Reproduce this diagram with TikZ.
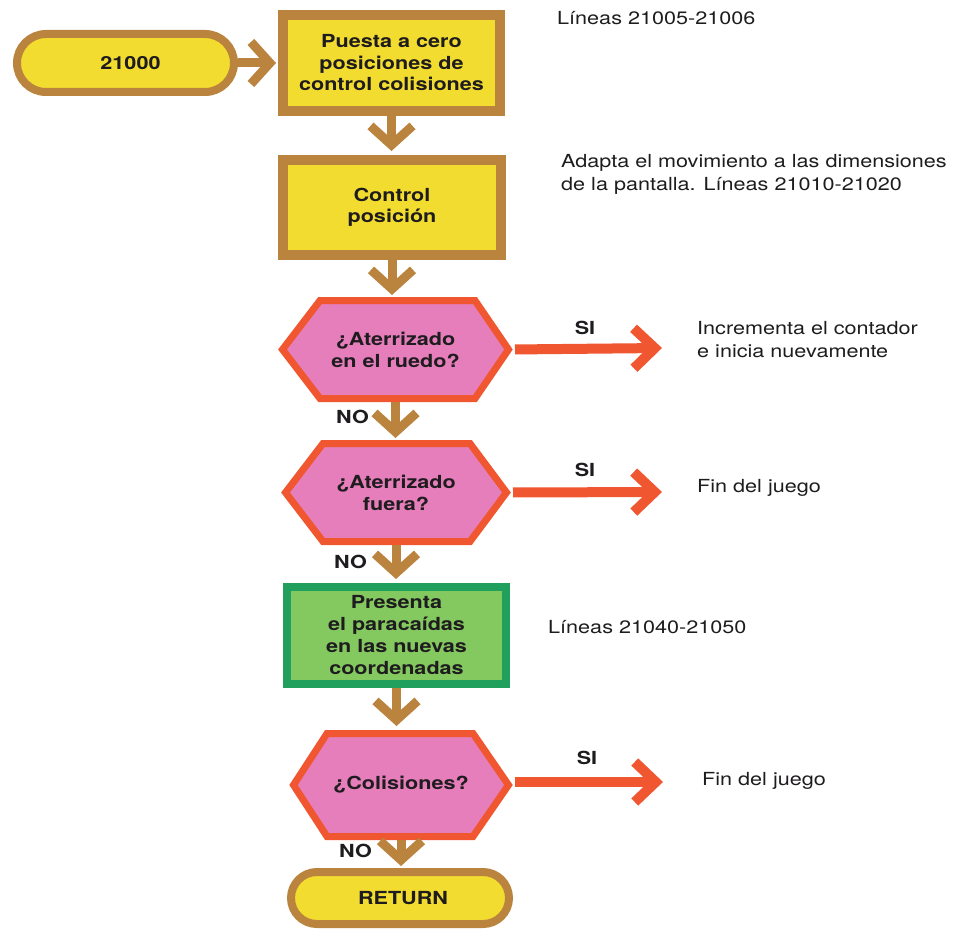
\documentclass[tikz,border=0pt]{standalone}
\usepackage{fontspec}
\setmainfont{TeX Gyre Heros}[FakeStretch=1.2]
\usetikzlibrary{arrows.meta,backgrounds}
\definecolor{brn}{RGB}{186,131,62}
\definecolor{yel}{RGB}{242,220,48}
\definecolor{redo}{RGB}{240,86,48}
\definecolor{pnk}{RGB}{229,126,186}
\definecolor{grnb}{RGB}{32,160,92}
\definecolor{grnf}{RGB}{132,200,96}
\definecolor{txt}{RGB}{30,28,30}
\newcommand{\hexshape}[3]{%
 \begin{scope}[on background layer]
 \draw[hexline] ([xshift=3.5pt]#1.west) -- ([xshift=#2,yshift=-3.5pt]#1.north west) -- ([xshift=-#3,yshift=-3.5pt]#1.north east) -- ([xshift=-3.5pt]#1.east) -- ([xshift=-#3,yshift=3.5pt]#1.south east) -- ([xshift=#2,yshift=3.5pt]#1.south west) -- cycle;
 \end{scope}}
\begin{document}
\begin{tikzpicture}[x=1pt,y=-1pt,
  every node/.style={text=txt, font=\fontsize{18}{22}\selectfont},
  procbox/.style={draw=brn, line width=10pt, fill=yel, inner sep=0pt, align=center, font=\fontsize{18}{21.5}\selectfont\bfseries},
  termbox/.style={draw=brn, line width=8pt, fill=yel, inner sep=0pt, align=center, font=\fontsize{18}{22}\selectfont\bfseries},
  greenbox/.style={draw=grnb, line width=8pt, fill=grnf, inner sep=0pt, align=center, font=\fontsize{18}{22}\selectfont\bfseries},
  hexnode/.style={inner sep=0pt, outer sep=0pt, align=center, font=\fontsize{18}{22}\selectfont\bfseries},
  hexline/.style={draw=redo, line width=7pt, fill=pnk, line join=miter},
  lbl/.style={font=\fontsize{18}{22}\selectfont\bfseries, inner sep=0pt},
  note/.style={inner sep=0pt, align=left, font=\fontsize{18}{22.5}\selectfont},
  brarrow/.style={draw=brn, line width=9pt, -{Straight Barb[length=19pt,width=42pt]}},
  rdarrow/.style={draw=redo, line width=10pt, -{Straight Barb[length=21pt,width=40pt]}}
]
\useasboundingbox (0,0) rectangle (955,936);

% nodes
\node[termbox, minimum width=217pt, minimum height=58pt, rounded corners=29pt] (start) at (125.5,63) {\hspace{10pt}21000};
\node[procbox, minimum width=217pt, minimum height=96pt] (b1) at (391.5,63) {Puesta a cero\\posiciones de\\control colisiones};
\node[procbox, minimum width=218pt, minimum height=95pt] (b2) at (392,207.5) {Control\\posición};
\node[hexnode, minimum width=233pt, minimum height=105pt] (h1) at (395.5,349.5) {¿Aterrizado\\en el ruedo?};
\node[hexnode, minimum width=228pt, minimum height=105pt] (h2) at (396,492.5) {¿Aterrizado\\fuera?};
\node[greenbox, minimum width=219pt, minimum height=97pt] (g) at (396.5,635.5) {Presenta\\el paracaídas\\en las nuevas\\coordenadas};
\node[hexnode, minimum width=222pt, minimum height=110pt] (h3) at (401,785) {¿Colisiones?};
\node[termbox, minimum width=218pt, minimum height=52pt, rounded corners=26pt] (ret) at (400,898) {\hspace{6pt}RETURN};

\hexshape{h1}{41pt}{37pt}
\hexshape{h2}{41pt}{40pt}
\hexshape{h3}{37pt}{39pt}

% free ends of the SI arrows
\coordinate (e1) at (662,348);
\coordinate (e2) at (662,492);
\coordinate (e3) at (663,782);

% connectors
\draw[brarrow, shorten >=2pt] (start.east) -- (b1.west);
\draw[brarrow, shorten >=4pt] (b1.south) -- (b1.south |- b2.north);
\draw[brarrow, shorten >=2pt] (b2.south) -- (b2.south |- h1.north);
\draw[brarrow, shorten >=2pt] (h1.south) -- (h1.south |- h2.north);
\draw[brarrow, shorten >=4pt] (h2.south) -- (h2.south |- g.north);
\draw[brarrow, shorten >=4pt] (g.south) -- (g.south |- h3.north);
\draw[brarrow, shorten >=2pt] (h3.south) -- (h3.south |- ret.north);
\draw[rdarrow, shorten <=3pt] (h1.east) -- (e1);
\draw[rdarrow, shorten <=3pt] (h2.east) -- (e2);
\draw[rdarrow, shorten <=3pt] ([yshift=3pt]h3.east) -- (e3);

% labels
\node[lbl, anchor=base] (si1) at (585,334) {SI};
\node[lbl, anchor=base] (si2) at (585,476) {SI};
\node[lbl, anchor=base] (si3) at (587,764) {SI};
\node[lbl, anchor=base east] (no1) at (369,423) {NO};
\node[lbl, anchor=base east] (no2) at (367,568) {NO};
\node[lbl, anchor=base east] (no3) at (372,857) {NO};

% notes (base anchor = baseline of the last line)
\node[note, anchor=base west] (n1) at (557,25) {Líneas 21005-21006};
\node[note, anchor=base west] (n2) at (561,190) {Adapta el movimiento a las dimensiones\\de la pantalla. Líneas 21010-21020};
\node[note, anchor=base west] (n3) at (697,357) {Incrementa el contador\\e inicia nuevamente};
\node[note, anchor=base west] (n4) at (697,492) {Fin del juego};
\node[note, anchor=base west] (n5) at (548,633) {Líneas 21040-21050};
\node[note, anchor=base west] (n6) at (702,785) {Fin del juego};
\end{tikzpicture}
\end{document}
